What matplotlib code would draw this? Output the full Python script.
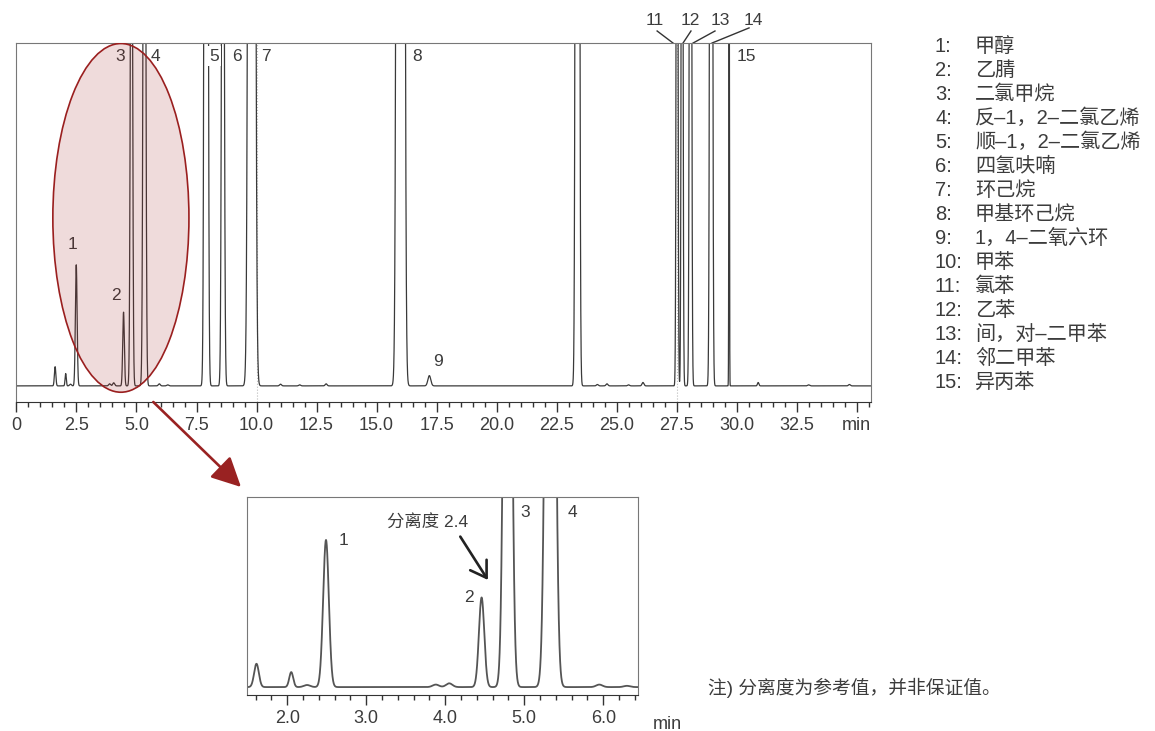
import numpy as np
import matplotlib
matplotlib.use("Agg")
import matplotlib.pyplot as plt
from matplotlib.patches import Ellipse
from matplotlib.ticker import MultipleLocator, FixedLocator, FixedFormatter

plt.rcParams['font.family'] = ['Liberation Sans', 'Noto Sans CJK SC']
TXT = '#3c3c3c'

# ---------------------------------------------------------------------------
# Peak table (retention time / min, height: baseline 0, top of frame = 100,
# sigma / min). Heights above 100 are clipped at the frame, as in the original.
# ---------------------------------------------------------------------------
peak_rt = [1.61, 2.05, 2.25, 2.49, 3.88, 4.05, 4.46, 4.79, 5.33, 5.95, 6.30,
           7.90, 8.60, 9.80, 11.0, 11.8, 12.9, 16.0, 17.2, 23.37, 24.2, 24.6,
           25.5, 26.1, 27.52, 27.73, 28.08, 28.94, 29.69, 30.9, 33.0, 34.7]
peak_h = [5.6, 3.6, 0.5, 35.3, 0.6, 0.9, 21.5, 210, 280, 0.6, 0.3,
          800, 270, 1500, 0.5, 0.3, 0.6, 3000, 3.0, 1100, 0.4, 0.6,
          0.3, 1.0, 300, 300, 400, 600, 150, 1.0, 0.3, 0.4]
peak_sd = [0.030, 0.025, 0.04, 0.036, 0.04, 0.04, 0.034, 0.040, 0.045, 0.04, 0.04,
           0.050, 0.045, 0.080, 0.04, 0.04, 0.04, 0.080, 0.06, 0.050, 0.04, 0.04,
           0.04, 0.04, 0.030, 0.030, 0.035, 0.040, 0.012, 0.03, 0.04, 0.04]

# labels in the main chromatogram: text, x (min), y (signal)
main_lab_txt = ['1', '2', '3', '4', '5', '6', '7', '8', '9', '15']
main_lab_x = [2.35, 4.15, 4.31, 5.77, 8.23, 9.19, 10.40, 16.69, 17.56, 30.40]
main_lab_y = [41.1, 26.5, 96.2, 96.2, 96.2, 96.2, 96.2, 96.2, 7.0, 96.2]

# labels above the frame with leader lines
top_lab_txt = ['11', '12', '13', '14']
top_lab_x = [26.60, 28.06, 29.31, 30.69]
top_lab_y = 106.7
lead_from_x = [26.69, 28.10, 29.10, 30.52]
lead_from_y = [103.5, 103.5, 103.5, 104.4]
lead_to_x = [27.35, 27.77, 28.19, 28.98]

# main x axis
main_ticks = [0, 2.5, 5, 7.5, 10, 12.5, 15, 17.5, 20, 22.5, 25, 27.5, 30, 32.5, 35]
main_ticklabels = ['0', '2.5', '5.0', '7.5', '10.0', '12.5', '15.0', '17.5', '20.0',
                   '22.5', '25.0', '27.5', '30.0', '32.5', 'min']

# inset x axis
ins_ticks = [2, 3, 4, 5, 6]
ins_ticklabels = ['2.0', '3.0', '4.0', '5.0', '6.0']
ins_lab_txt = ['1', '2', '3', '4']
ins_lab_x = [2.71, 4.30, 5.01, 5.61]
ins_lab_y = [35.1, 21.4, 41.8, 41.8]

legend_num = ['1:', '2:', '3:', '4:', '5:', '6:', '7:', '8:', '9:', '10:',
              '11:', '12:', '13:', '14:', '15:']
legend_name = ['甲醇', '乙腈', '二氯甲烷', '反–1，2–二氯乙烯', '顺–1，2–二氯乙烯',
               '四氢呋喃', '环己烷', '甲基环己烷', '1，4–二氧六环', '甲苯',
               '氯苯', '乙苯', '间，对–二甲苯', '邻二甲苯', '异丙苯']


def signal(t):
    y = np.zeros_like(t)
    for rt, h, sd in zip(peak_rt, peak_h, peak_sd):
        y += h * np.exp(-0.5 * ((t - rt) / sd) ** 2)
    return y


W, H = 1155, 731
fig = plt.figure(figsize=(W / 100, H / 100), dpi=100)

# ─── main chromatogram ─────────────────────────────────────────────────────
ax = fig.add_axes([16 / W, 1 - 402 / H, 855 / W, 359 / H])
t = np.linspace(0, 35.6, 40000)
ax.plot(t, signal(t), color='#3a3a3a', lw=0.9, zorder=2)
for xv in (10.0, 27.5):
    ax.axvline(xv, color='#bbbbbb', lw=0.8, ls=':', zorder=1)
ax.set_xlim(-0.02, 35.6)
ax.set_ylim(-4.7, 100)
ax.set_yticks([])
ax.xaxis.set_major_locator(FixedLocator(main_ticks))
ax.xaxis.set_major_formatter(FixedFormatter(main_ticklabels))
ax.xaxis.set_minor_locator(MultipleLocator(0.5))
ax.tick_params(axis='x', which='major', length=7, width=1, color='#333',
               labelsize=13, labelcolor=TXT, pad=4)
ax.tick_params(axis='x', which='minor', length=3.6, width=1, color='#333')
for s in ('top', 'left', 'right'):
    ax.spines[s].set_color('#777')
ax.spines['bottom'].set_color('#333')

for s, x, y in zip(main_lab_txt, main_lab_x, main_lab_y):
    ax.text(x, y, s, fontsize=12.5, color=TXT, ha='center', va='center', zorder=2.5,
            bbox=dict(facecolor='white', edgecolor='none', pad=1.5))
for s, x, x0, y0, x1 in zip(top_lab_txt, top_lab_x, lead_from_x, lead_from_y, lead_to_x):
    ax.text(x, top_lab_y, s, fontsize=12.5, color=TXT, ha='center', va='center', clip_on=False)
    ax.plot([x0, x1], [y0, 100], color='#333', lw=1, clip_on=False)

ax.add_patch(Ellipse((4.35, 49), 5.67, 101.7, facecolor=(0.62, 0.12, 0.12, 0.16),
                     edgecolor='#9a1f1f', lw=1.2, zorder=3))
ax.annotate('', xy=(241 / W, 1 - 487 / H), xycoords='figure fraction',
            xytext=(5.7, -4.7), textcoords='data', annotation_clip=False,
            arrowprops=dict(arrowstyle='-|>,head_length=0.9,head_width=0.45',
                            color='#992222', lw=1.9, mutation_scale=20,
                            shrinkA=0, shrinkB=0))

# ─── enlarged view ─────────────────────────────────────────────────────────
ax2 = fig.add_axes([247 / W, 1 - 695 / H, 391 / W, 198 / H])
t2 = np.linspace(1.49, 6.44, 8000)
ax2.plot(t2, signal(t2), color='#555555', lw=1.3)
ax2.set_xlim(1.49, 6.44)
ax2.set_ylim(-1.9, 45.6)
ax2.set_yticks([])
ax2.xaxis.set_major_locator(FixedLocator(ins_ticks))
ax2.xaxis.set_major_formatter(FixedFormatter(ins_ticklabels))
ax2.xaxis.set_minor_locator(MultipleLocator(0.2))
ax2.tick_params(axis='x', which='major', length=7, width=1, color='#333',
                labelsize=13, labelcolor=TXT, pad=3.5)
ax2.tick_params(axis='x', which='minor', length=3.6, width=1, color='#333')
for s in ('top', 'left', 'right'):
    ax2.spines[s].set_color('#777')
ax2.spines['bottom'].set_color('#333')
ax2.text(6.81, -7.0, 'min', fontsize=13, color=TXT, ha='center', va='top',
         clip_on=False)

for s, x, y in zip(ins_lab_txt, ins_lab_x, ins_lab_y):
    ax2.text(x, y, s, fontsize=12.5, color=TXT, ha='center', va='center')
ax2.text(3.78, 39.4, '分离度 2.4', fontsize=12.5, color=TXT, ha='center', va='center')
ax2.annotate('', xy=(4.54, 25.7), xytext=(4.19, 36.1),
             arrowprops=dict(arrowstyle='->,head_length=0.55,head_width=0.35',
                             color='#222', lw=1.9, mutation_scale=20,
                             shrinkA=0, shrinkB=0))

# ─── compound list and note ────────────────────────────────────────────────
for i, (n, name) in enumerate(zip(legend_num, legend_name)):
    y = 1 - (46 + 24.07 * i) / H
    fig.text(935 / W, y, n, fontsize=14.5, color=TXT, ha='left', va='center')
    fig.text(975 / W, y, name, fontsize=14.5, color=TXT, ha='left', va='center')

fig.text(708 / W, 1 - 688 / H, '注) 分离度为参考值，并非保证值。', fontsize=13.5,
         color=TXT, ha='left', va='center')

fig.savefig('out.png', dpi=100)
